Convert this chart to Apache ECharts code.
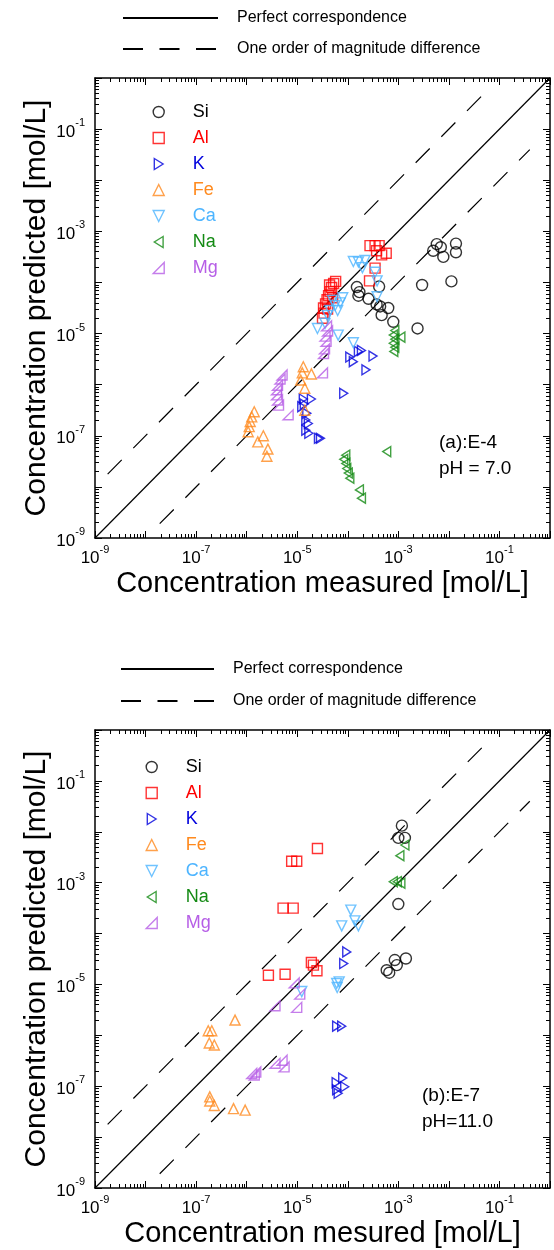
<!DOCTYPE html>
<html>
<head>
<meta charset="utf-8">
<script src="https://cdn.jsdelivr.net/npm/echarts@6/dist/echarts.min.js"></script>
<style>
html, body { margin: 0; padding: 0; background: #fff; }
#chart { width: 554px; height: 1250px; }
</style>
</head>
<body>
<div id="chart"></div>
<script>
// all values are log10 of concentration [mol/L]
// each point: [measured, predicted]

// (a) E-4, pH 7.0
const siA = [[-2.24,-3.25],[-2.16,-3.31],[-2.31,-3.38],[-2.11,-3.50],[-1.86,-3.24],[-1.86,-3.41],[-1.95,-3.98],[-2.53,-4.05],
  [-3.82,-4.09],[-3.77,-4.19],[-3.79,-4.26],[-3.59,-4.32],[-3.38,-4.08],[-3.43,-4.43],[-3.36,-4.47],[-3.20,-4.50],
  [-3.33,-4.64],[-3.10,-4.77],[-2.62,-4.90]];
const alA = [[-3.56,-3.28],[-3.46,-3.28],[-3.38,-3.28],[-3.43,-3.38],[-3.33,-3.46],[-3.24,-3.43],[-3.46,-3.72],[-3.57,-3.97],
  [-4.50,-4.70],[-4.47,-4.60],[-4.48,-4.50],[-4.44,-4.42],[-4.41,-4.34],[-4.38,-4.26],[-4.35,-4.18],[-4.32,-4.10],
  [-4.28,-4.02],[-4.24,-3.98],[-4.36,-4.05],[-4.30,-4.30],[-4.40,-4.52]];
const kA = [[-3.96,-5.46],[-3.89,-5.55],[-3.79,-5.35],[-3.73,-5.33],[-3.50,-5.44],[-3.64,-5.71],[-4.08,-6.17],[-4.54,-7.05],
  [-4.88,-6.28],[-4.72,-6.28],[-4.86,-6.38],[-4.91,-6.43],[-4.81,-6.56],[-4.83,-6.69],[-4.78,-6.76],[-4.83,-6.89],
  [-4.77,-6.95],[-4.58,-7.05]];
const feA = [[-5.85,-6.53],[-5.90,-6.63],[-5.93,-6.72],[-5.95,-6.82],[-5.97,-6.92],[-5.78,-7.12],[-5.67,-7.00],[-5.58,-7.26],
  [-5.60,-7.40],[-4.88,-5.65],[-4.90,-5.77],[-4.72,-5.79],[-4.93,-5.91],[-4.85,-6.07],[-4.85,-6.50]];
const caA = [[-3.89,-3.59],[-3.79,-3.60],[-3.66,-3.57],[-3.71,-3.71],[-3.46,-3.80],[-3.42,-3.97],[-3.42,-4.28],[-4.30,-4.35],
  [-4.25,-4.45],[-4.20,-4.55],[-4.35,-4.55],[-4.15,-4.40],[-4.40,-4.65],[-4.45,-4.80],[-4.60,-4.90],[-4.10,-4.30],
  [-4.19,-5.03],[-3.89,-5.18]];
const naA = [[-3.07,-4.94],[-3.10,-5.03],[-3.07,-5.11],[-3.10,-5.19],[-3.07,-5.27],[-3.09,-5.35],[-2.95,-5.07],[-4.04,-7.38],
  [-4.08,-7.46],[-4.04,-7.54],[-4.02,-7.64],[-3.99,-7.73],[-3.96,-7.83],[-3.77,-8.06],[-3.73,-8.22],[-3.23,-7.31]];
const mgA = [[-5.30,-5.81],[-5.34,-5.89],[-5.39,-6.01],[-5.41,-6.10],[-5.41,-6.20],[-5.39,-6.30],[-5.37,-6.40],[-5.18,-6.59],
  [-4.50,-5.77],[-4.48,-5.39],[-4.42,-4.85],[-4.40,-4.95],[-4.45,-5.05],[-4.43,-5.15],[-4.46,-5.30]];

// (b) E-7, pH 11.0
const siB = [[-2.93,-1.88],[-3.00,-2.12],[-2.87,-2.12],[-3.00,-3.42],[-3.23,-4.72],[-3.18,-4.77],[-3.03,-4.62],[-3.07,-4.52],[-2.85,-4.49]];
const alB = [[-4.60,-2.33],[-5.11,-2.58],[-5.01,-2.58],[-5.28,-3.50],[-5.08,-3.50],[-4.72,-4.57],[-4.68,-4.62],[-4.61,-4.73],[-5.57,-4.82],[-5.24,-4.80]];
const kB = [[-4.02,-4.36],[-4.08,-4.59],[-4.22,-5.82],[-4.12,-5.82],[-4.22,-7.07],[-4.10,-6.84],[-4.06,-7.01],[-4.23,-6.93],[-4.19,-7.14]];
const caB = [[-3.94,-3.54],[-3.86,-3.75],[-3.79,-3.85],[-4.12,-3.85],[-4.22,-4.98],[-4.17,-4.95],[-4.21,-5.06],[-4.91,-5.14]];
const naB = [[-2.87,-2.26],[-2.97,-2.47],[-3.10,-2.98],[-3.02,-2.98],[-2.95,-3.01]];
const feB = [[-6.23,-5.70],[-6.76,-5.91],[-6.69,-5.91],[-6.74,-6.15],[-6.64,-6.19],[-6.73,-7.21],[-6.73,-7.29],[-6.64,-7.38],[-6.26,-7.44],[-6.03,-7.47]];
const mgB = [[-5.06,-4.97],[-4.95,-5.19],[-5.44,-5.42],[-5.01,-5.45],[-5.44,-6.55],[-5.30,-6.49],[-5.26,-6.62],[-5.90,-6.75],[-5.82,-6.72],[-5.85,-6.78]];

// reference lines (log10 end points)
const perfectLine = [[-9,-9],[0,0]];
const upperLine = [[-8.75,-7.75],[-1.35,-0.35]];
const lowerLine = [[-7.72,-8.72],[-0.40,-1.40]];

// tick exponents
const decadeExp = [-9,-8,-7,-6,-5,-4,-3,-2,-1,0];
const labelExp = [-9,-7,-5,-3,-1];

const elements = [
  { name: 'Si', color: '#000000', symbol: 'circle', size: 11 },
  { name: 'Al', color: '#ff0000', symbol: 'rect', size: 10 },
  { name: 'K', color: '#0000dd', symbol: 'path://M0,0L8,5L0,10Z', size: 10 },
  { name: 'Fe', color: '#ff8a1e', symbol: 'path://M5,0L10,10L0,10Z', size: 10 },
  { name: 'Ca', color: '#4cb4ff', symbol: 'path://M0,0L10,0L5,10Z', size: 10 },
  { name: 'Na', color: '#138a13', symbol: 'path://M8,0L0,5L8,10Z', size: 10 },
  { name: 'Mg', color: '#b65ee6', symbol: 'path://M10,0L10,10L0,10Z', size: 10 }
];
const panels = [
  { data: [siA, alA, kA, feA, caA, naA, mgA], top: 78, height: 460, xName: 'Concentration measured [mol/L]',
    note: '(a):E-4\npH = 7.0', noteLeft: 439, noteTop: 430,
    legLeft: 152.5, legTop: 103, lineLegLeft: 122, lineLegTop: 10, lineW: 95, lineGap: 17 },
  { data: [siB, alB, kB, feB, caB, naB, mgB], top: 730, height: 458, xName: 'Concentration mesured [mol/L]',
    note: '(b):E-7\npH=11.0', noteLeft: 422, noteTop: 1083,
    legLeft: 145.5, legTop: 758, lineLegLeft: 120, lineLegTop: 661, lineW: 93, lineGap: 18 }
];

const pow = p => [Math.pow(10, p[0]), Math.pow(10, p[1])];
const decades = decadeExp.map(e => Math.pow(10, e));
const labelled = labelExp.map(e => Math.pow(10, e));
const minors = [];
decadeExp.slice(0, -1).forEach(e => {
  for (let m = 2; m <= 9; m++) minors.push(m * Math.pow(10, e));
});

const font = 'Liberation Sans, Arial, sans-serif';
const supLabel = {
  customValues: labelled,
  formatter: v => '{b|10}{s|' + Math.round(Math.log10(v)) + '}',
  rich: {
    b: { fontSize: 17, color: '#000', fontFamily: font, padding: [6, 0, 0, 0] },
    s: { fontSize: 11, color: '#000', fontFamily: font, verticalAlign: 'top' }
  }
};

function makeAxis(g, pos, major, withLabel, name) {
  const ax = {
    gridIndex: g,
    type: 'log',
    logBase: 10,
    min: 1e-9,
    max: 1,
    position: pos,
    axisLine: { show: major, onZero: false, lineStyle: { color: '#000', width: 1.5 } },
    axisTick: { show: true, inside: true, length: major ? 7 : 4, customValues: major ? decades : minors,
      lineStyle: { color: '#000', width: 1 } },
    axisLabel: withLabel ? Object.assign({ margin: pos === 'left' ? 10 : 6 }, supLabel) : { show: false },
    splitLine: { show: false },
    minorTick: { show: false },
    silent: true
  };
  if (name) {
    const vert = pos === 'left';
    ax.name = name;
    ax.nameLocation = 'middle';
    ax.nameMoveOverlap = false;
    ax.nameGap = vert ? 43 : 31;
    ax.nameTextStyle = { fontSize: vert ? 30 : 29, color: '#000', fontFamily: font };
  }
  return ax;
}

const grid = [], xAxis = [], yAxis = [], series = [], legend = [], title = [];
panels.forEach((p, g) => {
  grid.push({ left: 95, top: p.top, width: 455, height: p.height, outerBoundsMode: 'none', containLabel: false });
  xAxis.push(makeAxis(g, 'bottom', true, true, p.xName));
  xAxis.push(makeAxis(g, 'bottom', false, false));
  xAxis.push(makeAxis(g, 'top', true, false));
  xAxis.push(makeAxis(g, 'top', false, false));
  yAxis.push(makeAxis(g, 'left', true, true, 'Concentration predicted [mol/L]'));
  yAxis.push(makeAxis(g, 'left', false, false));
  yAxis.push(makeAxis(g, 'right', true, false));
  yAxis.push(makeAxis(g, 'right', false, false));

  const xi = g * 4, yi = g * 4;
  series.push({ name: 'Perfect correspondence', type: 'line', xAxisIndex: xi, yAxisIndex: yi,
    data: perfectLine.map(pow), symbol: 'none', silent: true, z: 2,
    itemStyle: { color: '#000' },
    lineStyle: { color: '#000', width: 1.2, type: 'solid' } });
  [upperLine, lowerLine].forEach(l => {
    series.push({ name: 'One order of magnitude difference', type: 'line', xAxisIndex: xi, yAxisIndex: yi,
      data: l.map(pow), symbol: 'none', silent: true, z: 2,
      itemStyle: { color: '#000' },
      lineStyle: { color: '#000', width: 1.2, type: [20, 16.5] } });
  });
  elements.forEach((el, i) => {
    series.push({
      name: el.name, type: 'scatter', xAxisIndex: xi, yAxisIndex: yi,
      data: p.data[i].map(pow),
      symbol: el.symbol, symbolSize: el.size, symbolKeepAspect: true,
      itemStyle: { color: 'rgba(0,0,0,0)', borderColor: el.color, borderWidth: 1.4 },
      emphasis: { disabled: true }, silent: true, z: 3
    });
  });

  // element legend inside the plot
  legend.push({
    left: p.legLeft, top: p.legTop, orient: 'vertical', padding: 0,
    itemWidth: 11, itemHeight: 11, itemGap: 8,
    selectedMode: false,
    textStyle: { fontSize: 18, lineHeight: 18, fontFamily: font, padding: [0, 0, 0, 23.5] },
    itemStyle: { borderWidth: 1.4 },
    data: elements.map(el => ({ name: el.name, textStyle: { color: el.color } }))
  });
  // line legend above the plot
  legend.push({
    left: p.lineLegLeft, top: p.lineLegTop, orient: 'vertical', padding: 0,
    itemWidth: p.lineW, itemHeight: 14, itemGap: p.lineGap - 2,
    selectedMode: false,
    textStyle: { fontSize: 16, color: '#000', fontFamily: font, padding: [0, 0, 0, 14] },
    itemStyle: { color: 'rgba(0,0,0,0)', borderWidth: 0, opacity: 0 },
    data: ['Perfect correspondence', 'One order of magnitude difference']
  });
  title.push({
    text: p.note, left: p.noteLeft, top: p.noteTop, padding: 0,
    textStyle: { fontSize: 19, fontWeight: 'normal', color: '#000', lineHeight: 26, fontFamily: font }
  });
});

const chart = echarts.init(document.getElementById('chart'));
chart.setOption({
  animation: false,
  backgroundColor: '#fff',
  textStyle: { fontFamily: font },
  title, legend, grid, xAxis, yAxis, series
});
</script>
</body>
</html>
